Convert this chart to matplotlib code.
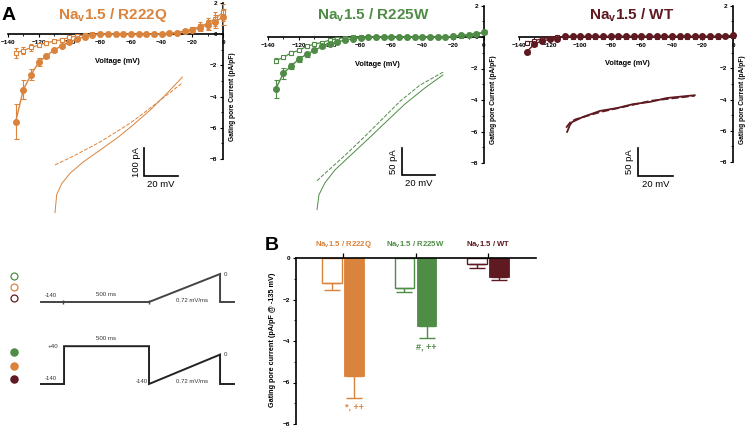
import matplotlib
matplotlib.use('Agg')
import matplotlib.pyplot as plt
from matplotlib.ticker import MultipleLocator

plt.rcParams['font.family'] = ['Liberation Sans', 'DejaVu Sans']
plt.rcParams['mathtext.fontset'] = 'custom'
plt.rcParams['mathtext.rm'] = 'Liberation Sans'
plt.rcParams['mathtext.bf'] = 'Liberation Sans:bold'

# ---------------- data ----------------
ORANGE = '#DA833D'
GREEN = '#4F8C46'
DARKRED = '#5E1A20'

voltages = [-135, -130, -125, -120, -115, -110, -105, -100, -95, -90, -85, -80, -75, -70,
            -65, -60, -55, -50, -45, -40, -35, -30, -25, -20, -15, -10, -5, 0]

r222q_filled = [-5.6, -3.55, -2.6, -1.8, -1.4, -1.0, -0.75, -0.5, -0.3, -0.15, -0.05,
                0.0, 0.0, 0.0, 0.0, 0.0, 0.0, 0.0, 0.0,
                0.02, 0.05, 0.1, 0.2, 0.3, 0.4, 0.6, 0.8, 1.1]
r222q_filled_err = [1.1, 0.6, 0.35, 0.25, 0.15, 0.12, 0.1, 0.08, 0.06, 0.05, 0.05,
                    0.05, 0.05, 0.05, 0.05, 0.05, 0.05, 0.05, 0.05,
                    0.05, 0.05, 0.08, 0.1, 0.15, 0.2, 0.3, 0.4, 0.5]
r222q_open = [-1.2, -1.05, -0.85, -0.7, -0.55, -0.45, -0.35, -0.2, -0.1, -0.05, 0.0,
              0.0, 0.0, 0.0, 0.0, 0.0, 0.0, 0.0, 0.0,
              0.0, 0.05, 0.1, 0.2, 0.3, 0.5, 0.7, 1.0, 1.4]
r222q_open_err = [0.3, 0.25, 0.2, 0.15, 0.12, 0.1, 0.08, 0.06, 0.05, 0.05, 0.05,
                  0.05, 0.05, 0.05, 0.05, 0.05, 0.05, 0.05, 0.05,
                  0.05, 0.05, 0.08, 0.1, 0.15, 0.25, 0.35, 0.45, 0.55]

r225w_filled = [-3.3, -2.3, -1.85, -1.4, -1.1, -0.85, -0.6, -0.45, -0.3, -0.2, -0.1,
                -0.05, 0.0, 0.0, 0.0, 0.0, 0.0, 0.0, 0.0,
                0.0, 0.0, 0.0, 0.0, 0.05, 0.1, 0.15, 0.2, 0.3]
r225w_filled_err = [0.6, 0.35, 0.2, 0.18, 0.15, 0.12, 0.1, 0.08, 0.06, 0.05, 0.05,
                    0.05, 0.05, 0.05, 0.05, 0.05, 0.05, 0.05, 0.05,
                    0.05, 0.05, 0.05, 0.05, 0.05, 0.06, 0.08, 0.1, 0.12]
r225w_open = [-1.5, -1.3, -1.0, -0.85, -0.6, -0.45, -0.35, -0.2, -0.1, -0.05, 0.0,
              0.0, 0.0, 0.0, 0.0, 0.0, 0.0, 0.0, 0.0,
              0.0, 0.0, 0.0, 0.0, 0.02, 0.05, 0.1, 0.2, 0.3]
r225w_open_err = [0.15, 0.12, 0.12, 0.1, 0.08, 0.08, 0.06, 0.05, 0.05, 0.05, 0.05,
                  0.05, 0.05, 0.05, 0.05, 0.05, 0.05, 0.05, 0.05,
                  0.05, 0.05, 0.05, 0.05, 0.05, 0.05, 0.06, 0.08, 0.1]

wt_filled = [-0.95, -0.45, -0.25, -0.15, -0.1, 0.05, 0.05, 0.05, 0.05, 0.05, 0.05,
             0.05, 0.05, 0.05, 0.05, 0.05, 0.05, 0.05, 0.05,
             0.05, 0.05, 0.05, 0.05, 0.05, 0.05, 0.05, 0.08, 0.1]
wt_filled_err = [0.15, 0.1, 0.06, 0.05, 0.05, 0.05, 0.05, 0.05, 0.05, 0.05, 0.05,
                 0.05, 0.05, 0.05, 0.05, 0.05, 0.05, 0.05, 0.05,
                 0.05, 0.05, 0.05, 0.05, 0.05, 0.05, 0.05, 0.05, 0.05]
wt_open = [-0.35, -0.25, -0.1, -0.05, 0.0, 0.0, 0.0, 0.0, 0.0, 0.0, 0.0,
           0.0, 0.0, 0.0, 0.0, 0.0, 0.0, 0.0, 0.0,
           0.0, 0.0, 0.0, 0.0, 0.0, 0.0, 0.0, 0.05, 0.05]
wt_open_err = [0.1, 0.08, 0.05, 0.05, 0.05, 0.05, 0.05, 0.05, 0.05, 0.05, 0.05,
               0.05, 0.05, 0.05, 0.05, 0.05, 0.05, 0.05, 0.05,
               0.05, 0.05, 0.05, 0.05, 0.05, 0.05, 0.05, 0.05, 0.05]

# example current traces (mV, pA)
tr1_solid_v = [-130, -129, -126, -121, -113.5, -103.5, -93.5, -84, -74, -65, -55]
tr1_solid_i = [-510, -445, -405, -368, -329, -286, -243, -196, -143, -89, -25]
tr1_dash_v = [-130, -118, -103.5, -92, -84, -74, -65, -55]
tr1_dash_i = [-339, -304, -257, -214, -182, -136, -93, -46]

tr2_solid_v = [-130, -128.8, -125.2, -119.1, -110, -99.1, -88.8, -76.7, -64.5, -53.6]
tr2_solid_i = [-259, -231, -209, -185, -159, -128, -98, -63, -33, -9]
tr2_dash_v = [-130, -122.1, -113, -102.7, -91.8, -79.7, -67.6, -53.6]
tr2_dash_i = [-205, -183, -158, -128, -95, -58, -28, -4]

tr3_solid_v = [-130, -128.3, -127.1, -121, -111.1, -101.4, -92.3, -82.6, -72.9, -56.9]
tr3_solid_i = [-111, -98, -93, -84, -73, -68, -61, -57, -50, -45]
tr3_dash_v = [-130.5, -128, -125, -111, -82, -57]
tr3_dash_i = [-103, -93, -88, -75, -55, -46]

# voltage protocols (ms, mV) - schematic
prot1_t = [0, 128, 628, 1041, 1041, 1122]
prot1_v = [-140, -140, -140, 0, -140, -140]
prot2_t = [0, 134, 134, 628, 628, 1041, 1041, 1122]
prot2_v = [-140, -140, 40, 40, -140, 0, -140, -140]

# panel B
groups = ['Na$_\\mathregular{v}$1.5 / R222Q', 'Na$_\\mathregular{v}$1.5 / R225W',
          'Na$_\\mathregular{v}$1.5 / WT']
group_colors = [ORANGE, GREEN, DARKRED]
bar_open = [-1.2, -1.45, -0.3]
bar_open_err = [0.32, 0.17, 0.17]
bar_filled = [-5.7, -3.28, -0.92]
bar_filled_err = [1.05, 0.57, 0.14]
bar_marks = ['*, ++', '#, ++', '']

# ---------------- figure ----------------
W, H = 746, 428
fig = plt.figure(figsize=(W / 100, H / 100), dpi=100)


def add_ax(l, t, r, b):
    ax = fig.add_axes([l / W, 1 - b / H, (r - l) / W, (b - t) / H])
    ax.patch.set_alpha(0)
    return ax


def mapped_ax(l, t, r, b, xref_px, xref_val, xs, yref_px, yref_val, ys):
    ax = add_ax(l, t, r, b)
    ax.set_xlim(xref_val + (l - xref_px) / xs, xref_val + (r - xref_px) / xs)
    ax.set_ylim(yref_val - (b - yref_px) / ys, yref_val - (t - yref_px) / ys)
    ax.axis('off')
    return ax


def iv_panel(box, title, tx, color, filled, ferr, opened, oerr):
    ax = add_ax(*box)
    ax.set_xlim(-140, 0)
    ax.set_ylim(-8, 2)
    c1 = ax.errorbar(voltages, opened, yerr=oerr, color=color, marker='s', ms=3.2,
                     mfc='white', mec=color, mew=0.8, lw=0.9, capsize=1.6,
                     elinewidth=0.8, capthick=0.8, zorder=3)
    c2 = ax.errorbar(voltages, filled, yerr=ferr, color=color, marker='o', ms=4.0,
                     mfc=color, mec=color, lw=1.0, capsize=1.8,
                     elinewidth=0.8, capthick=0.8, zorder=4)
    for c in (c1, c2):
        c[0].set_clip_on(False)
        for a in c[1]:
            a.set_clip_on(False)
        for a in c[2]:
            a.set_clip_on(False)
    ax.spines['top'].set_visible(False)
    ax.spines['right'].set_visible(False)
    ax.spines['left'].set_position(('data', 0))
    ax.spines['bottom'].set_position(('data', 0))
    for s in ('left', 'bottom'):
        ax.spines[s].set_linewidth(1.2)
    ax.set_xticks([-140, -120, -100, -80, -60, -40, -20, 0])
    ax.xaxis.set_minor_locator(MultipleLocator(10))
    ax.set_yticks([2, 0, -2, -4, -6, -8])
    ax.yaxis.set_minor_locator(MultipleLocator(1))
    ax.tick_params(which='major', labelsize=4.6, length=2.5, width=0.8, pad=1.5)
    ax.tick_params(which='minor', length=1.5, width=0.6)
    for lab in ax.get_xticklabels() + ax.get_yticklabels():
        lab.set_fontweight('bold')
    ax.text(-69, -1.72, 'Voltage (mV)', fontsize=5.3, fontweight='bold',
            ha='center', va='center')
    ax.annotate('Gating pore Current (pA/pF)', xy=(0, -4.0), xycoords='data',
                xytext=(6.5, 0), textcoords='offset points', rotation=90,
                fontsize=4.8, fontweight='bold', ha='center', va='center')
    fig.text(tx / W, 1 - 19 / H, title, color=color, fontsize=11, fontweight='bold',
             ha='center', va='baseline')
    return ax


iv_panel((8, 3, 223, 159), groups[0], 113, ORANGE,
         r222q_filled, r222q_filled_err, r222q_open, r222q_open_err)
iv_panel((268, 5.5, 484, 163), groups[1], 373, GREEN,
         r225w_filled, r225w_filled_err, r225w_open, r225w_open_err)
iv_panel((519, 5.8, 733, 162), groups[2], 632, DARKRED,
         wt_filled, wt_filled_err, wt_open, wt_open_err)

fig.text(2 / W, 1 - 20 / H, 'A', fontsize=14, fontweight='bold', ha='left', va='baseline')
fig.text(265 / W, 1 - 250 / H, 'B', fontsize=14, fontweight='bold', ha='left', va='baseline')


def trace_panel(box, xref, yref, color, sv, si, dv, di, corner, bar_pa, lw):
    ax = mapped_ax(*box, xref[0], xref[1], xref[2], yref[0], yref[1], yref[2])
    ax.plot(sv, si, color=color, lw=lw, solid_capstyle='round', solid_joinstyle='round')
    ax.plot(dv, di, color=color, lw=lw, dashes=(4, 1.6))
    cx, cy = corner
    ax.plot([cx, cx, cx + 20], [cy + bar_pa, cy, cy], color='black', lw=1.2,
            solid_joinstyle='miter')
    ax.annotate(f'{bar_pa} pA', xy=(cx, cy + bar_pa / 2), xytext=(-5.8, 0),
                textcoords='offset points', rotation=90, ha='center', va='center',
                fontsize=6.8)
    ax.annotate('20 mV', xy=(cx + 10, cy), xytext=(0, -6.2),
                textcoords='offset points', ha='center', va='center', fontsize=6.8)


trace_panel((40, 60, 200, 230), (55, -130, 1.7), (70, 0, 0.28), ORANGE,
            tr1_solid_v, tr1_solid_i, tr1_dash_v, tr1_dash_i, (-77.6, -378.6), 100, 0.7)
trace_panel((300, 60, 460, 230), (317, -130, 1.65), (70, 0, 0.54), GREEN,
            tr2_solid_v, tr2_solid_i, tr2_dash_v, tr2_dash_i, (-78.5, -194.4), 50, 0.7)
trace_panel((550, 60, 710, 230), (567, -130, 1.75), (70, 0, 0.56), DARKRED,
            tr3_solid_v, tr3_solid_i, tr3_dash_v, tr3_dash_i, (-89.4, -189.3), 50, 1.3)

# ---------- voltage protocols ----------
PC = '#333333'
pa = mapped_ax(0, 262, 250, 312, 41, 0, 0.172, 302, -140, 0.2)
pa.plot(prot1_t, prot1_v, color='#444444', lw=1.4, solid_joinstyle='miter', clip_on=False)
pa.plot([prot1_t[1], prot1_t[2]], [prot1_v[1], prot1_v[2]], ls='none', marker='|',
        ms=3, mew=1.0, color='#444444')
pa.annotate('-140', xy=(58, -140), xytext=(0, 3), textcoords='offset points',
            ha='center', va='bottom', fontsize=4.3, color=PC)
pa.annotate('500 ms', xy=(378, -140), xytext=(0, 3.5), textcoords='offset points',
            ha='center', va='bottom', fontsize=4.4, color=PC)
pa.annotate('0', xy=(1041, 0), xytext=(3, 0), textcoords='offset points',
            ha='left', va='center', fontsize=4.4, color=PC)
pa.annotate('0.72 mV/ms', xy=(878, -140), xytext=(0, 1), textcoords='offset points',
            ha='center', va='center', fontsize=4.3, color=PC)

pb = mapped_ax(0, 335, 250, 395, 41, 0, 0.172, 384, -140, 0.21)
pb.plot(prot2_t, prot2_v, color='#222222', lw=1.4, solid_joinstyle='miter', clip_on=False)
pb.annotate('+40', xy=(134, 40), xytext=(-4, 0), textcoords='offset points',
            ha='right', va='center', fontsize=4.4, color=PC)
pb.annotate('-140', xy=(58, -140), xytext=(0, 2.5), textcoords='offset points',
            ha='center', va='bottom', fontsize=4.3, color=PC)
pb.annotate('500 ms', xy=(381, 40), xytext=(0, 3.5), textcoords='offset points',
            ha='center', va='bottom', fontsize=4.4, color=PC)
pb.annotate('-140', xy=(628, -140), xytext=(-1, 1.5), textcoords='offset points',
            ha='right', va='center', fontsize=4.3, color=PC)
pb.annotate('0', xy=(1041, 0), xytext=(3, 0), textcoords='offset points',
            ha='left', va='center', fontsize=4.4, color=PC)
pb.annotate('0.72 mV/ms', xy=(878, -140), xytext=(0, 1.5), textcoords='offset points',
            ha='center', va='center', fontsize=4.3, color=PC)

leg_colors = [GREEN, ORANGE, DARKRED]
la = add_ax(4, 270, 24, 304)
la.set_xlim(-1, 1)
la.set_ylim(2.545, -0.545)
la.axis('off')
for i, c in enumerate(leg_colors):
    la.plot([0], [i], marker='o', ms=5, mfc='white', mec=c, mew=0.9, ls='none')
lb = add_ax(4, 345, 24, 386)
lb.set_xlim(-1, 1)
lb.set_ylim(2.52, -0.52)
lb.axis('off')
for i, c in enumerate(leg_colors):
    lb.plot([0], [i], marker='o', ms=5.2, mfc=c, mec=c, mew=0.9, ls='none')

# ---------- panel B ----------
bx = add_ax(296, 258, 536, 424)
bx.set_xlim((296 - 343) / 72.5, (536 - 343) / 72.5)
bx.set_ylim(-8, 0)
pos = [0, 1, 2]
bw = 0.275
for i in pos:
    c = group_colors[i]
    bx.bar(i - 0.152, bar_open[i], width=bw, color='white', edgecolor=c, lw=1.0, zorder=2)
    bx.errorbar(i - 0.152, bar_open[i], yerr=[[bar_open_err[i]], [0]], color=c,
                capsize=5.5, elinewidth=1.0, capthick=1.0, zorder=3)
    bx.bar(i + 0.152, bar_filled[i], width=bw, color=c, edgecolor=c, lw=0.6, zorder=2)
    bx.errorbar(i + 0.152, bar_filled[i], yerr=[[bar_filled_err[i]], [0]], color=c,
                capsize=5.5, elinewidth=1.0, capthick=1.0, zorder=3)
    if bar_marks[i]:
        bx.annotate(bar_marks[i], xy=(i + 0.152, bar_filled[i] - bar_filled_err[i]),
                    xytext=(0, -6.5), textcoords='offset points', ha='center',
                    va='center', fontsize=6.5, fontweight='bold', color=c)
bx.spines['right'].set_visible(False)
bx.spines['bottom'].set_visible(False)
bx.spines['top'].set_linewidth(1.2)
bx.spines['left'].set_linewidth(1.2)
bx.xaxis.tick_top()
bx.set_xticks(pos)
bx.set_xticklabels(groups)
for lab, c in zip(bx.get_xticklabels(), group_colors):
    lab.set_color(c)
    lab.set_fontweight('bold')
    lab.set_fontsize(5.6)
bx.tick_params(axis='x', length=3.5, width=0.9, pad=2.5)
bx.set_yticks([0, -2, -4, -6, -8])
bx.yaxis.set_minor_locator(MultipleLocator(1))
bx.tick_params(axis='y', which='major', labelsize=4.6, length=2.5, width=0.8, pad=1.5)
bx.tick_params(axis='y', which='minor', length=1.5, width=0.6)
for lab in bx.get_yticklabels():
    lab.set_fontweight('bold')
bx.text((273 - 343) / 72.5, -3.95, 'Gating pore current (pA/pF @ -135 mV)', rotation=90,
        fontsize=5.2, fontweight='bold', ha='center', va='center')

fig.savefig('out.png', dpi=100)
